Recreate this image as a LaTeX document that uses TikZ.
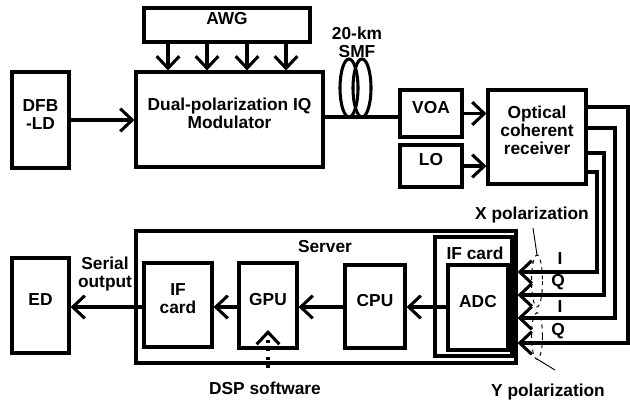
\documentclass[tikz,border=0pt]{standalone}
\usepackage{fontspec}
\setmainfont{Liberation Sans}
\usetikzlibrary{arrows.meta,fit}
\begin{document}
\begin{tikzpicture}[x=0.75pt,y=-0.75pt,
  font=\fontsize{13}{13.5}\selectfont\bfseries,
  box/.style={draw,line width=2.3pt,inner sep=0pt,align=center},
  wire/.style={line width=2.3pt},
  tip/.style={-{Straight Barb[length=9pt,width=17pt]}},
  arr/.style={line width=2.3pt,tip},
  lbl/.style={inner sep=0pt,align=center},
  thin/.style={line width=0.7pt}]
\useasboundingbox (0,0) rectangle (630,401);
% top row
\node[box,fit={(144,8) (310,42)}] (awg) {AWG};
\node[box,fit={(136,72) (323,167)}] (mod) {Dual-polarization IQ\\Modulator};
\node[box,fit={(12,72) (69,168)}] (dfb) {DFB\\-LD};
\node[box,fit={(400,90) (462,137)}] (voa) {VOA};
\node[box,fit={(400,145) (462,187)}] (lo) {LO};
\node[box,fit={(488,90) (586,184)}] (rx) {Optical\\coherent\\receiver};
\node[lbl] (smf) at (357,42) {20-km\\SMF};
% fiber coil
\coordinate (fa) at (323,117);
\coordinate (fb) at (400,117);
\draw[wire] (mod.east |- fa) -- (voa.west |- fb);
\draw[wire] (349,88) ellipse [x radius=9, y radius=29];
\draw[wire] (362,88) ellipse [x radius=9, y radius=29];
% AWG arrows
\foreach \xx in {168,207,247,286}{
  \draw[arr] (awg.south -| {(\xx,0)}) -- (mod.north -| {(\xx,0)});
}
\draw[arr] (dfb.east) -- (mod.west |- dfb.east);
\draw[arr] (voa.east) -- (rx.west |- voa.east);
\draw[arr] (lo.east) -- (rx.west |- lo.east);
% bottom row
\node[box,fit={(136,231) (516,363)}] (srv) {};
\node[lbl] (srvl) at (325,247) {Server};
\node[box,fit={(435,237) (512,356)}] (ifb) {};
\node[lbl] (ifbl) at (475,253) {IF card};
\node[box,fit={(448,265) (508,350)}] (adc) {ADC};
\node[box,fit={(345,265) (405,348)}] (cpu) {CPU};
\node[box,fit={(239,263) (297,348)}] (gpu) {GPU};
\node[box,fit={(144,263) (212,347)}] (ifc) {IF\\card};
\node[box,fit={(12,258) (69,353)}] (ed) {ED};
\node[lbl] (ser) at (105,274) {Serial\\output};
\node[lbl] (dsp) at (265,388) {DSP software};
\coordinate (r) at (0,307);
\draw[arr] (adc.west |- r) -- (cpu.east |- r);
\draw[arr] (cpu.west |- r) -- (gpu.east |- r);
\draw[arr] (gpu.west |- r) -- (ifc.east |- r);
\draw[arr] (ifc.west |- r) -- (ed.east |- r);
\coordinate (dspa) at (268,368);
\coordinate (dspb) at (268,330);
\draw[line width=2.3pt,dash pattern=on 2.3pt off 4pt,tip] (dspa) -- (dspb);
% receiver outputs
\coordinate (o1) at (628,107);
\coordinate (o2) at (615,128);
\coordinate (o3) at (604,153);
\coordinate (o4) at (597,172);
\coordinate (i1) at (628,343);
\coordinate (i2) at (615,318);
\coordinate (i3) at (604,295);
\coordinate (i4) at (597,272);
\draw[arr] (rx.east |- o1) -- (o1) -- (i1) -- (srv.east |- i1);
\draw[arr] (rx.east |- o2) -- (o2) -- (i2) -- (srv.east |- i2);
\draw[arr] (rx.east |- o3) -- (o3) -- (i3) -- (srv.east |- i3);
\draw[arr] (rx.east |- o4) -- (o4) -- (i4) -- (srv.east |- i4);
\node[lbl] (li1) at (560,259) {I};
\node[lbl] (lq1) at (558,282) {Q};
\node[lbl] (li2) at (560,307) {I};
\node[lbl] (lq2) at (558,331) {Q};
% polarization groups
\draw[thin,dashed] (537,281) ellipse [x radius=5.5, y radius=26];
\draw[thin,dashed] (537,336) ellipse [x radius=5.5, y radius=23.5];
\node[lbl] (xp) at (532,215) {X polarization};
\node[lbl] (yp) at (548,392) {Y polarization};
\coordinate (xa) at (533,228);
\coordinate (xb) at (537,255);
\coordinate (ya) at (537,359);
\coordinate (yb) at (555,370);
\draw[thin] (xa) -- (xb);
\draw[thin] (ya) -- (yb);
\end{tikzpicture}
\end{document}
